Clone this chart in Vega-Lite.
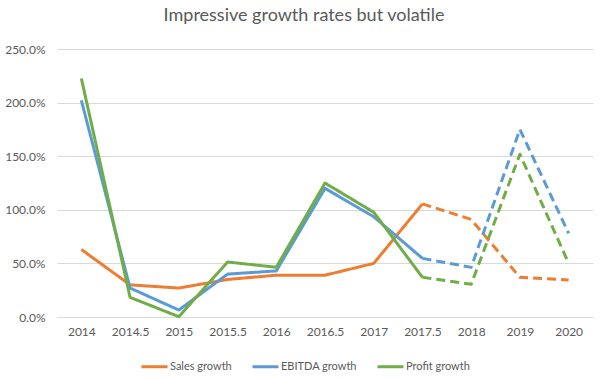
{
  "$schema": "https://vega.github.io/schema/vega-lite/v6.json",
  "autosize": "none",
  "width": 536,
  "height": 268,
  "padding": {"left": 57, "top": 49, "right": 15, "bottom": 64},
  "background": "white",
  "title": {
    "text": "Impressive growth rates but volatile",
    "font": "Lato",
    "fontSize": 18,
    "fontWeight": "normal",
    "color": "#595959",
    "anchor": "middle",
    "dx": -21,
    "offset": 18
  },
  "data": {
    "values": [
      {"year": "2014", "series": "Sales growth", "seg": "actual", "value": 0.63},
      {"year": "2014.5", "series": "Sales growth", "seg": "actual", "value": 0.30},
      {"year": "2015", "series": "Sales growth", "seg": "actual", "value": 0.27},
      {"year": "2015.5", "series": "Sales growth", "seg": "actual", "value": 0.35},
      {"year": "2016", "series": "Sales growth", "seg": "actual", "value": 0.39},
      {"year": "2016.5", "series": "Sales growth", "seg": "actual", "value": 0.39},
      {"year": "2017", "series": "Sales growth", "seg": "actual", "value": 0.50},
      {"year": "2017.5", "series": "Sales growth", "seg": "actual", "value": 1.055},
      {"year": "2017.5", "series": "Sales growth", "seg": "forecast", "value": 1.055},
      {"year": "2018", "series": "Sales growth", "seg": "forecast", "value": 0.91},
      {"year": "2019", "series": "Sales growth", "seg": "forecast", "value": 0.37},
      {"year": "2020", "series": "Sales growth", "seg": "forecast", "value": 0.345},
      {"year": "2014", "series": "EBITDA growth", "seg": "actual", "value": 2.02},
      {"year": "2014.5", "series": "EBITDA growth", "seg": "actual", "value": 0.27},
      {"year": "2015", "series": "EBITDA growth", "seg": "actual", "value": 0.065},
      {"year": "2015.5", "series": "EBITDA growth", "seg": "actual", "value": 0.40},
      {"year": "2016", "series": "EBITDA growth", "seg": "actual", "value": 0.43},
      {"year": "2016.5", "series": "EBITDA growth", "seg": "actual", "value": 1.20},
      {"year": "2017", "series": "EBITDA growth", "seg": "actual", "value": 0.935},
      {"year": "2017.5", "series": "EBITDA growth", "seg": "actual", "value": 0.547},
      {"year": "2017.5", "series": "EBITDA growth", "seg": "forecast", "value": 0.547},
      {"year": "2018", "series": "EBITDA growth", "seg": "forecast", "value": 0.463},
      {"year": "2019", "series": "EBITDA growth", "seg": "forecast", "value": 1.75},
      {"year": "2020", "series": "EBITDA growth", "seg": "forecast", "value": 0.78},
      {"year": "2014", "series": "Profit growth", "seg": "actual", "value": 2.225},
      {"year": "2014.5", "series": "Profit growth", "seg": "actual", "value": 0.183},
      {"year": "2015", "series": "Profit growth", "seg": "actual", "value": 0.003},
      {"year": "2015.5", "series": "Profit growth", "seg": "actual", "value": 0.513},
      {"year": "2016", "series": "Profit growth", "seg": "actual", "value": 0.464},
      {"year": "2016.5", "series": "Profit growth", "seg": "actual", "value": 1.25},
      {"year": "2017", "series": "Profit growth", "seg": "actual", "value": 0.977},
      {"year": "2017.5", "series": "Profit growth", "seg": "actual", "value": 0.37},
      {"year": "2017.5", "series": "Profit growth", "seg": "forecast", "value": 0.37},
      {"year": "2018", "series": "Profit growth", "seg": "forecast", "value": 0.305},
      {"year": "2019", "series": "Profit growth", "seg": "forecast", "value": 1.518},
      {"year": "2020", "series": "Profit growth", "seg": "forecast", "value": 0.50}
    ]
  },
  "mark": {"type": "line", "strokeWidth": 3, "strokeCap": "butt", "strokeJoin": "round"},
  "encoding": {
    "x": {
      "field": "year",
      "type": "ordinal",
      "sort": ["2014", "2014.5", "2015", "2015.5", "2016", "2016.5", "2017", "2017.5", "2018", "2019", "2020"],
      "scale": {"type": "point", "padding": 0.5},
      "axis": {
        "title": null,
        "labelAngle": 0,
        "ticks": false,
        "domain": true,
        "domainColor": "#D9D9D9",
        "grid": false,
        "labelFont": "Lato",
        "labelFontSize": 12,
        "labelColor": "#595959",
        "labelPadding": 9
      }
    },
    "y": {
      "field": "value",
      "type": "quantitative",
      "scale": {"domain": [0, 2.5]},
      "axis": {
        "title": null,
        "format": ".1%",
        "values": [0, 0.5, 1, 1.5, 2, 2.5],
        "ticks": false,
        "domain": false,
        "gridColor": "#D9D9D9",
        "gridWidth": 1,
        "labelFont": "Lato",
        "labelFontSize": 12,
        "labelColor": "#595959",
        "labelPadding": 12
      }
    },
    "color": {
      "field": "series",
      "type": "nominal",
      "sort": ["Sales growth", "EBITDA growth", "Profit growth"],
      "scale": {
        "domain": ["Sales growth", "EBITDA growth", "Profit growth"],
        "range": ["#ED7D31", "#5B9BD5", "#70AD47"]
      },
      "legend": {
        "title": null,
        "orient": "none",
        "direction": "horizontal",
        "legendX": 83,
        "legendY": 303,
        "symbolType": "stroke",
        "symbolSize": 676,
        "symbolStrokeWidth": 3,
        "labelFont": "Lato",
        "labelFontSize": 11,
        "labelColor": "#595959",
        "labelOffset": 1,
        "columnPadding": 14
      }
    },
    "strokeDash": {
      "field": "seg",
      "type": "nominal",
      "scale": {"domain": ["actual", "forecast"], "range": [[1, 0], [9, 5]]},
      "legend": null
    },
    "detail": {"field": "seg"}
  },
  "config": {"view": {"stroke": null}}
}
